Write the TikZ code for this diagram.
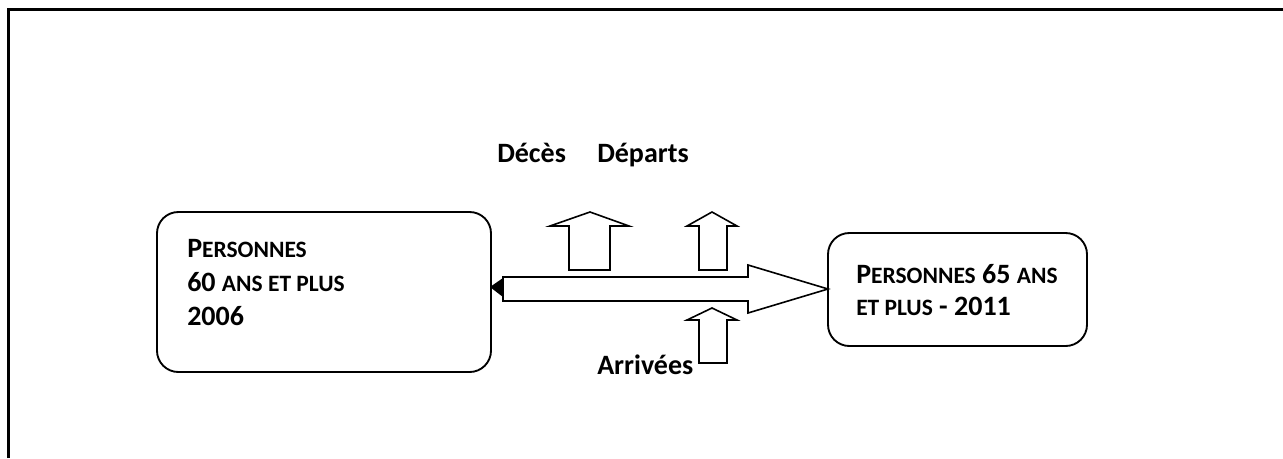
\documentclass[tikz,border=0pt]{standalone}
\usepackage{fontspec}
\setmainfont{Carlito}
\newcommand\bigsz{\fontsize{21pt}{24pt}\selectfont}
\newcommand\smc[1]{{\fontsize{17.6pt}{19pt}\selectfont #1}}
\begin{document}
\begin{tikzpicture}[x=0.75pt,y=-0.75pt,
  frame/.style={line width=2.25pt},
  roundbox/.style={draw,line width=1.4pt,rounded corners=16pt},
  blockarrow/.style={draw,line width=1.2pt,fill=white,line join=miter},
  lbl/.style={inner sep=0pt,anchor=base west,font=\bfseries\bigsz}]
\useasboundingbox (0,0) rectangle (1283,458);
% frame
\draw[frame] (8.5,458) -- (8.5,9.5) -- (1283,9.5);
% boxes
\draw[roundbox] (157,212) rectangle (491,372);
\node[inner sep=0pt] (left) at (324,292) [minimum width=334*0.75pt, minimum height=160*0.75pt] {};
\draw[roundbox] (828,233) rectangle (1087,346);
\node[inner sep=0pt] (right) at (957.5,289.5) [minimum width=259*0.75pt, minimum height=113*0.75pt] {};
% main arrow
\draw[blockarrow] (503,277) -- (748,277) -- (748,265) -- (828,289) -- (748,313) -- (748,301) -- (503,301) -- cycle;
\fill (490,287) -- (503,278) -- (503,297) -- cycle;
% up arrows
\draw[blockarrow] (569,270) -- (569,226) -- (550,226) -- (590,212) -- (629,226) -- (610,226) -- (610,270) -- cycle;
\draw[blockarrow] (699,270) -- (699,226) -- (687,226) -- (712,212) -- (737,226) -- (727,226) -- (727,270) -- cycle;
\draw[blockarrow] (699,363) -- (699,320) -- (687,320) -- (712,308) -- (737,320) -- (727,320) -- (727,363) -- cycle;
% labels
\node[lbl] (deces) at (497,162) {Décès};
\node[lbl] (departs) at (597,162) {Départs};
\node[lbl] (arrivees) at (597,374) {Arrivées};
\node[lbl] (l1) at (187,257) {P\smc{ERSONNES}};
\node[lbl] (l2) at (187,291) {60 \smc{ANS ET PLUS}};
\node[lbl] (l3) at (187,325) {2006};
\node[lbl] (r1) at (856,283) {P\smc{ERSONNES} 65 \smc{ANS}};
\node[lbl] (r2) at (856,315) {\smc{ET PLUS} - 2011};
\end{tikzpicture}
\end{document}
